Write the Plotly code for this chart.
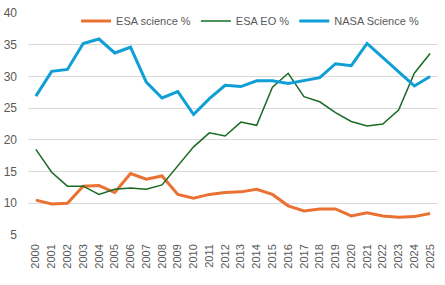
import plotly.graph_objects as go

years = list(range(2000, 2026))
esa_science = [10.5, 9.9, 10.0, 12.7, 12.8, 11.7, 14.7, 13.8, 14.3, 11.4, 10.8, 11.4, 11.7,
               11.8, 12.2, 11.4, 9.6, 8.8, 9.1, 9.1, 8.0, 8.5, 8.0, 7.8, 7.9, 8.4]
esa_eo = [18.5, 14.9, 12.7, 12.7, 11.4, 12.2, 12.4, 12.2, 12.9, 15.9, 18.9, 21.1, 20.6,
          22.8, 22.3, 28.3, 30.5, 26.8, 26.0, 24.3, 22.9, 22.2, 22.5, 24.7, 30.5, 33.6]
nasa_science = [26.9, 30.8, 31.1, 35.2, 35.9, 33.7, 34.6, 29.1, 26.6, 27.6, 24.0, 26.5, 28.6,
                28.4, 29.3, 29.3, 28.9, 29.3, 29.8, 32.0, 31.7, 35.2, 33.0, 30.8, 28.5, 30.0]

font_family = "Liberation Sans, Arial, sans-serif"
grey = "#595959"

fig = go.Figure()
fig.add_trace(go.Scatter(x=years, y=esa_science, mode="lines", name="ESA science %",
                         line=dict(color="#E97132", width=3)))
fig.add_trace(go.Scatter(x=years, y=esa_eo, mode="lines", name="ESA EO %",
                         line=dict(color="#196B24", width=1.5)))
fig.add_trace(go.Scatter(x=years, y=nasa_science, mode="lines", name="NASA Science %",
                         line=dict(color="#0F9ED5", width=3)))

fig.update_layout(
    width=445, height=285,
    margin=dict(l=28, r=7, t=13, b=50, autoexpand=False),
    paper_bgcolor="white", plot_bgcolor="white",
    font=dict(family=font_family, size=12, color=grey),
    showlegend=True,
    legend=dict(orientation="h", x=0.966, xanchor="right", y=0.964, yanchor="middle",
                bgcolor="rgba(0,0,0,0)", font=dict(size=11, color=grey),
                itemwidth=30, tracegroupgap=0),
    xaxis=dict(range=[1999.5, 2025.5], tickmode="array", tickvals=years,
               ticktext=[str(y) for y in years], tickangle=-90, showgrid=False,
               zeroline=False, showline=False, ticks="", automargin=False,
               ticklabelstandoff=6, tickfont=dict(size=11, color=grey)),
    yaxis=dict(range=[5, 40], dtick=5, showgrid=True, gridcolor="#D9D9D9", gridwidth=1,
               zeroline=False, showline=False, ticks="", automargin=False,
               ticklabelstandoff=10, tickfont=dict(size=12, color=grey)),
)

fig.write_html("out.html", config={"displayModeBar": False},
               post_script="document.body.style.margin='0px';")
